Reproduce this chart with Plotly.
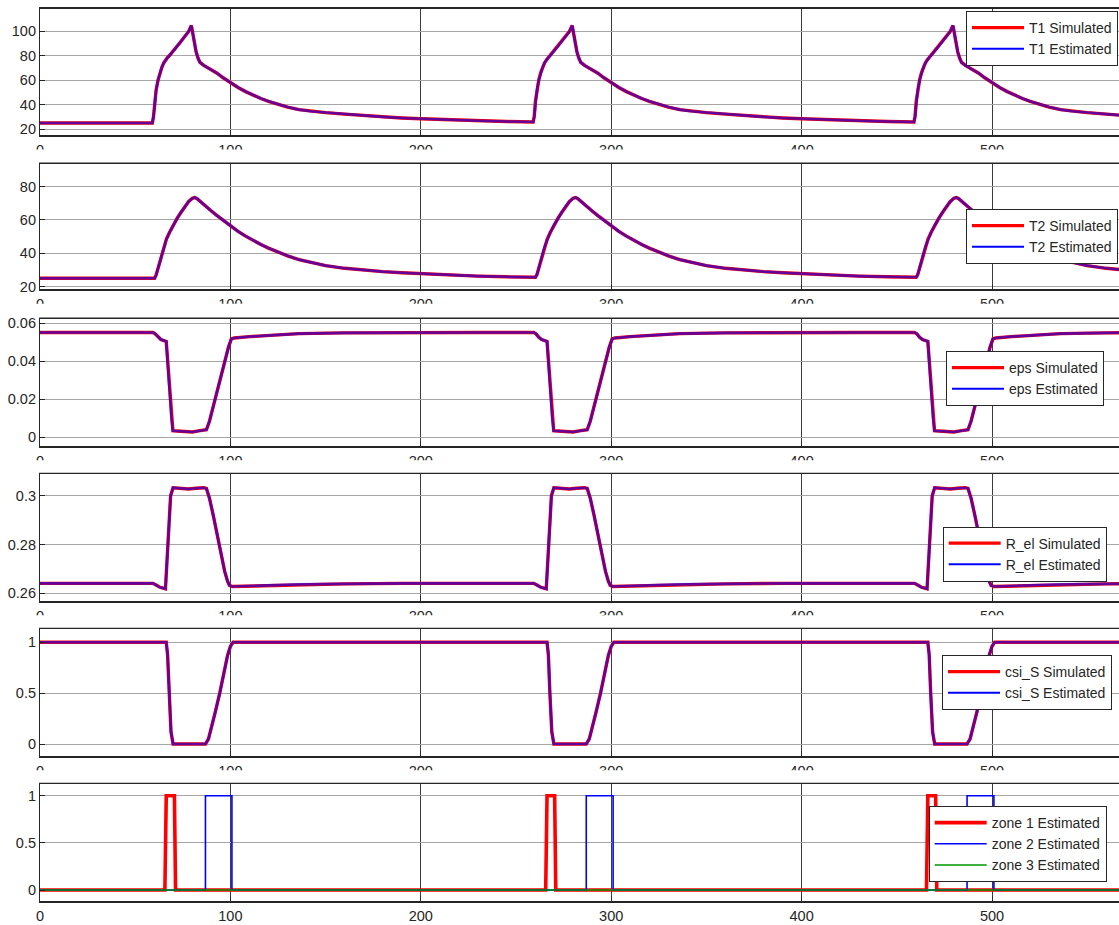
import plotly.graph_objects as go

# ---------------- time / signal samples ----------------
# T1 (three heating cycles)
T1_t_c1 = [0, 59, 59.6, 60.2, 61, 62, 63, 64, 65, 66, 67, 68, 70, 72, 74, 76, 78, 79.5, 80.3, 81, 82, 83, 84, 86, 88, 90,
           93, 96, 100, 104, 108, 112, 116, 120, 125, 130, 136, 142, 150, 160, 170, 180, 190, 200, 215, 230, 245]
T1_v_c1 = [25, 25, 30, 42, 52, 60, 66, 70.5, 74, 76.5, 78.5, 80, 83.5, 87.5, 91.5, 95.5, 99.5, 104.5, 97, 90, 83, 78,
           74.5, 72, 70.3, 68.7, 65.6, 62.1, 57.8, 54, 50.6, 47.6, 45, 42.7, 40.2, 38, 35.9, 34.6, 33.5, 32.2, 31, 30,
           29.1, 28.4, 27.5, 26.8, 26.2]
T1_t_c2 = [259, 259.6, 260.2, 261, 262, 263, 264, 265, 266, 267, 268, 270, 272, 274, 276, 278, 279.5, 280.3, 281, 282,
           283, 284, 286, 288, 290, 293, 296, 300, 304, 308, 312, 316, 320, 325, 330, 336, 342, 350, 360, 370, 380, 390,
           400, 415, 430, 445]
T1_v_c2 = [25.8, 30.5, 42.5, 52.3, 60.2, 66.1, 70.6, 74, 76.5, 78.5, 80, 83.5, 87.5, 91.5, 95.5, 99.5, 104.5, 97, 90,
           83, 78, 74.5, 72, 70.3, 68.7, 65.6, 62.1, 57.8, 54, 50.6, 47.6, 45, 42.7, 40.2, 38, 35.9, 34.6, 33.5, 32.2,
           31, 30, 29.1, 28.4, 27.5, 26.8, 26.2]
T1_t_c3 = [459, 459.6, 460.2, 461, 462, 463, 464, 465, 466, 467, 468, 470, 472, 474, 476, 478, 479.5, 480.3, 481, 482,
           483, 484, 486, 488, 490, 493, 496, 500, 504, 508, 512, 516, 520, 525, 530, 536, 542, 550, 560, 570]
T1_v_c3 = [25.8, 30.5, 42.5, 52.3, 60.2, 66.1, 70.6, 74, 76.5, 78.5, 80, 83.5, 87.5, 91.5, 95.5, 99.5, 104.5, 97, 90,
           83, 78, 74.5, 72, 70.3, 68.7, 65.6, 62.1, 57.8, 54, 50.6, 47.6, 45, 42.7, 40.2, 38, 35.9, 34.6, 33.5, 32.2,
           31]

# T2
T2_t_c1 = [0, 60.2, 61, 62, 63, 64, 65, 66.4, 68, 70, 72, 74, 76, 78, 80, 81.3, 82.5, 84, 86, 88, 90, 93, 96, 100,
           104, 108, 112, 116, 120, 125, 130, 136, 142, 150, 160, 170, 180, 190, 200, 215, 230, 245]
T2_v_c1 = [25, 25, 27, 31, 35.5, 40, 44, 48.5, 52.5, 57, 61, 64.5, 68, 71, 73, 73.5, 72.8, 71.2, 69.3, 67.3, 65.4,
           62.6, 60, 56.4, 53.2, 50.3, 47.7, 45.3, 43.1, 40.7, 38.5, 36.2, 34.6, 32.6, 31, 29.9, 29, 28.3, 27.7, 26.9,
           26.3, 25.9]
T2_t_c2 = [260.2, 261, 262, 263, 264, 265, 266.4, 268, 270, 272, 274, 276, 278, 280, 281.3, 282.5, 284, 286, 288,
           290, 293, 296, 300, 304, 308, 312, 316, 320, 325, 330, 336, 342, 350, 360, 370, 380, 390, 400, 415, 430, 445]
T2_v_c2 = [25.6, 27.2, 31, 35.5, 40, 44, 48.5, 52.5, 57, 61, 64.5, 68, 71, 73, 73.5, 72.8, 71.2, 69.3, 67.3, 65.4,
           62.6, 60, 56.4, 53.2, 50.3, 47.7, 45.3, 43.1, 40.7, 38.5, 36.2, 34.6, 32.6, 31, 29.9, 29, 28.3, 27.7, 26.9,
           26.3, 25.9]
T2_t_c3 = [460.2, 461, 462, 463, 464, 465, 466.4, 468, 470, 472, 474, 476, 478, 480, 481.3, 482.5, 484, 486, 488,
           490, 493, 496, 500, 504, 508, 512, 516, 520, 525, 530, 536, 542, 550, 560, 570]
T2_v_c3 = [25.6, 27.2, 31, 35.5, 40, 44, 48.5, 52.5, 57, 61, 64.5, 68, 71, 73, 73.5, 72.8, 71.2, 69.3, 67.3, 65.4,
           62.6, 60, 56.4, 53.2, 50.3, 47.7, 45.3, 43.1, 40.7, 38.5, 36.2, 34.6, 32.6, 31, 29.9]

# eps
eps_t_c1 = [0, 59.3, 60.5, 62, 63.5, 66.3, 67, 68, 69, 69.8, 72, 76, 80, 84, 87.4, 89, 91, 93, 95, 97, 99, 100.5,
            102, 110, 120, 136, 160, 190, 230]
eps_v_c1 = [0.0552, 0.0552, 0.0545, 0.0527, 0.0515, 0.0505, 0.040, 0.024, 0.010, 0.0035, 0.0033, 0.0030, 0.0028,
            0.0035, 0.0040, 0.0085, 0.0165, 0.025, 0.033, 0.040, 0.0475, 0.0518, 0.0523, 0.0530, 0.0537, 0.0546,
            0.0550, 0.0552, 0.0552]
eps_t_c2 = [259.3, 260.5, 262, 263.5, 266.3, 267, 268, 269, 269.8, 272, 276, 280, 284, 287.4, 289, 291, 293, 295,
            297, 299, 300.5, 302, 310, 320, 336, 360, 390, 430]
eps_v_c2 = [0.0552, 0.0545, 0.0527, 0.0515, 0.0505, 0.040, 0.024, 0.010, 0.0035, 0.0033, 0.0030, 0.0028, 0.0035,
            0.0040, 0.0085, 0.0165, 0.025, 0.033, 0.040, 0.0475, 0.0518, 0.0523, 0.0530, 0.0537, 0.0546, 0.0550,
            0.0552, 0.0552]
eps_t_c3 = [459.3, 460.5, 462, 463.5, 466.3, 467, 468, 469, 469.8, 472, 476, 480, 484, 487.4, 489, 491, 493, 495,
            497, 499, 500.5, 502, 510, 520, 536, 560, 570]
eps_v_c3 = [0.0552, 0.0545, 0.0527, 0.0515, 0.0505, 0.040, 0.024, 0.010, 0.0035, 0.0033, 0.0030, 0.0028, 0.0035,
            0.0040, 0.0085, 0.0165, 0.025, 0.033, 0.040, 0.0475, 0.0518, 0.0523, 0.0530, 0.0537, 0.0546, 0.0550,
            0.0551]

# R_el
Rel_t_c1 = [0, 59.3, 61, 63, 65.9, 66.8, 67.6, 68.6, 69.9, 74, 78, 82, 86, 87.4, 89, 91, 93, 95, 97, 98.5, 99.5,
            101, 110, 120, 136, 160, 190]
Rel_v_c1 = [0.2641, 0.2641, 0.2634, 0.2625, 0.2619, 0.275, 0.290, 0.300, 0.3033, 0.3032, 0.3028, 0.3031, 0.3033,
            0.3030, 0.2990, 0.2920, 0.2840, 0.2760, 0.2690, 0.2650, 0.2633, 0.2628, 0.2630, 0.2633, 0.2637, 0.2639,
            0.2641]
Rel_t_c2 = [259.3, 261, 263, 265.9, 266.8, 267.6, 268.6, 269.9, 274, 278, 282, 286, 287.4, 289, 291, 293, 295, 297,
            298.5, 299.5, 301, 310, 320, 336, 360, 390]
Rel_v_c2 = [0.2641, 0.2634, 0.2625, 0.2619, 0.275, 0.290, 0.300, 0.3033, 0.3032, 0.3028, 0.3031, 0.3033, 0.3030,
            0.2990, 0.2920, 0.2840, 0.2760, 0.2690, 0.2650, 0.2633, 0.2628, 0.2630, 0.2633, 0.2637, 0.2639, 0.2641]
Rel_t_c3 = [459.3, 461, 463, 465.9, 466.8, 467.6, 468.6, 469.9, 474, 478, 482, 486, 487.4, 489, 491, 493, 495, 497,
            498.5, 499.5, 501, 510, 520, 536, 560, 570]
Rel_v_c3 = [0.2641, 0.2634, 0.2625, 0.2619, 0.275, 0.290, 0.300, 0.3033, 0.3032, 0.3028, 0.3031, 0.3033, 0.3030,
            0.2990, 0.2920, 0.2840, 0.2760, 0.2690, 0.2650, 0.2633, 0.2628, 0.2630, 0.2633, 0.2637, 0.2639, 0.2640]

# csi_S
csi_t = [0, 66.3, 67, 67.8, 68.8, 69.9, 86.9, 88.5, 90, 92, 94.4, 96.5, 98.5, 100, 101.4,
         266.3, 267, 267.8, 268.8, 269.9, 286.9, 288.5, 290, 292, 294.4, 296.5, 298.5, 300, 301.4,
         466.3, 467, 467.8, 468.8, 469.9, 486.9, 488.5, 490, 492, 494.4, 496.5, 498.5, 500, 501.4, 570]
csi_v = [1, 1, 0.88, 0.5, 0.12, 0, 0, 0.05, 0.15, 0.31, 0.5, 0.7, 0.87, 0.96, 1,
         1, 0.88, 0.5, 0.12, 0, 0, 0.05, 0.15, 0.31, 0.5, 0.7, 0.87, 0.96, 1,
         1, 0.88, 0.5, 0.12, 0, 0, 0.05, 0.15, 0.31, 0.5, 0.7, 0.87, 0.96, 1, 1]

# zone flags
zone1_t = [0, 65.6, 66.3, 70.6, 71.2, 265.6, 266.3, 270.3, 270.9, 465.6, 466.3, 470.4, 471.0, 570]
zone1_v = [0, 0, 1, 1, 0, 0, 1, 1, 0, 0, 1, 1, 0, 0]
zone2_t = [0, 86.9, 86.9, 100.8, 100.8, 286.9, 286.9, 301.0, 301.0, 486.9, 486.9, 501.0, 501.0, 570]
zone2_v = [0, 0, 1, 1, 0, 0, 1, 1, 0, 0, 1, 1, 0, 0]
zone3_t = [0, 570]
zone3_v = [0, 0]

x_ticks = [0, 100, 200, 300, 400, 500]

T1_t = T1_t_c1 + T1_t_c2 + T1_t_c3
T1_v = T1_v_c1 + T1_v_c2 + T1_v_c3
T2_t = T2_t_c1 + T2_t_c2 + T2_t_c3
T2_v = T2_v_c1 + T2_v_c2 + T2_v_c3
eps_t = eps_t_c1 + eps_t_c2 + eps_t_c3
eps_v = eps_v_c1 + eps_v_c2 + eps_v_c3
Rel_t = Rel_t_c1 + Rel_t_c2 + Rel_t_c3
Rel_v = Rel_v_c1 + Rel_v_c2 + Rel_v_c3

# ---------------- figure layout ----------------
W, H = 1119, 925
ML = 40
FONT = dict(family="Liberation Sans, Arial, sans-serif", size=14.5, color="#262626")
LEG_FONT = dict(family="Liberation Sans, Arial, sans-serif", size=14, color="#262626")

# panel pixel extents (top, bottom) and y ranges / ticks
panels = [
    dict(top=9, bot=135, yr=[15.2, 118], yt=[20, 40, 60, 80, 100], ytt=["20", "40", "60", "80", "100"]),
    dict(top=164, bot=289.3, yr=[18.4, 93.6], yt=[20, 40, 60, 80], ytt=["20", "40", "60", "80"]),
    dict(top=319, bot=445.7, yr=[-0.0044, 0.0623], yt=[0, 0.02, 0.04, 0.06], ytt=["0", "0.02", "0.04", "0.06"]),
    dict(top=474.3, bot=600.7, yr=[0.257, 0.3088], yt=[0.26, 0.28, 0.3], ytt=["0.26", "0.28", "0.3"]),
    dict(top=629.3, bot=755.7, yr=[-0.115, 1.128], yt=[0, 0.5, 1], ytt=["0", "0.5", "1"]),
    dict(top=784.3, bot=900.7, yr=[-0.113, 1.121], yt=[0, 0.5, 1], ytt=["0", "0.5", "1"]),
]

RED = "rgb(255,0,0)"
BLUE = "rgb(0,0,255)"
GREEN = "rgb(0,150,0)"

fig = go.Figure()


def add_pair(i, t, v, name):
    ax = "" if i == 1 else str(i)
    lg = "legend" if i == 1 else f"legend{i}"
    fig.add_trace(go.Scatter(x=t, y=v, mode="lines", name=f"{name} Simulated",
                             line=dict(color=RED, width=3.4), xaxis=f"x{ax}", yaxis=f"y{ax}", legend=lg))
    # estimate drawn semi-transparent over the simulated curve
    fig.add_trace(go.Scatter(x=t, y=v, mode="lines", name=f"{name} Estimated", opacity=0.6,
                             line=dict(color=BLUE, width=2.6), xaxis=f"x{ax}", yaxis=f"y{ax}",
                             showlegend=False, hoverinfo="skip"))
    # solid legend entry for the estimate
    fig.add_trace(go.Scatter(x=[None], y=[None], mode="lines", name=f"{name} Estimated",
                             line=dict(color=BLUE, width=2), xaxis=f"x{ax}", yaxis=f"y{ax}", legend=lg))


add_pair(1, T1_t, T1_v, "T1")
add_pair(2, T2_t, T2_v, "T2")
add_pair(3, eps_t, eps_v, "eps")
add_pair(4, Rel_t, Rel_v, "R_el")
add_pair(5, csi_t, csi_v, "csi_S")

fig.add_trace(go.Scatter(x=zone1_t, y=zone1_v, mode="lines", name="zone 1 Estimated",
                         line=dict(color=RED, width=3.6), xaxis="x6", yaxis="y6", legend="legend6"))
fig.add_trace(go.Scatter(x=zone2_t, y=zone2_v, mode="lines", name="zone 2 Estimated",
                         line=dict(color=BLUE, width=1.6), xaxis="x6", yaxis="y6", legend="legend6"))
fig.add_trace(go.Scatter(x=zone3_t, y=zone3_v, mode="lines", name="zone 3 Estimated",
                         line=dict(color=GREEN, width=1.6), xaxis="x6", yaxis="y6", legend="legend6"))

layout = dict(
    width=W, height=H,
    margin=dict(l=ML, r=0, t=0, b=0, autoexpand=False),
    paper_bgcolor="white", plot_bgcolor="white",
    font=FONT, showlegend=True,
)

# legend boxes: (right edge px, top px)
legend_pos = [(1118, 11), (1118, 209), (1104, 351), (1106.7, 526.5), (1112, 655), (1106.7, 806)]

for i, p in enumerate(panels, start=1):
    ax = "" if i == 1 else str(i)
    dom = [1 - p["bot"] / H, 1 - p["top"] / H]
    layout[f"xaxis{ax}"] = dict(
        domain=[0, 1], range=[0, (W - ML) / 1.904], anchor=f"y{ax}", automargin=False,
        tickmode="array", tickvals=x_ticks, ticktext=[str(v) for v in x_ticks],
        showgrid=True, gridcolor="#3c3c3c", gridwidth=1, zeroline=False,
        showline=True, linecolor="#262626", linewidth=1.5, mirror=True,
        ticks="inside", ticklen=5, tickcolor="#262626", ticklabelstandoff=1,
        tickfont=FONT,
    )
    layout[f"yaxis{ax}"] = dict(
        domain=dom, range=p["yr"], anchor=f"x{ax}", automargin=False,
        tickmode="array", tickvals=p["yt"], ticktext=p["ytt"],
        showgrid=True, gridcolor="#a6a6a6", gridwidth=1, zeroline=False,
        showline=True, linecolor="#262626", linewidth=1.2, mirror=True,
        ticks="inside", ticklen=5, tickcolor="#262626",
        tickfont=FONT,
    )
    rx, ty = legend_pos[i - 1]
    lname = "legend" if i == 1 else f"legend{i}"
    layout[lname] = dict(
        x=(rx - ML) / (W - ML), xanchor="right",
        y=1 - ty / H, yanchor="top",
        bgcolor="white", bordercolor="#262626", borderwidth=1,
        font=LEG_FONT, itemwidth=52, tracegroupgap=0,
    )

# x tick labels of the upper panels are cut off half way
shapes = []
for k in range(5):
    y_a = panels[k]["bot"] + 14.5
    y_b = panels[k + 1]["top"] - 1.5
    shapes.append(dict(type="rect", xref="paper", yref="paper", layer="above",
                       x0=-0.04, x1=1.0, y0=1 - y_b / H, y1=1 - y_a / H,
                       fillcolor="white", line=dict(width=0)))
layout["shapes"] = shapes

fig.update_layout(**layout)
fig.write_html("out.html")
